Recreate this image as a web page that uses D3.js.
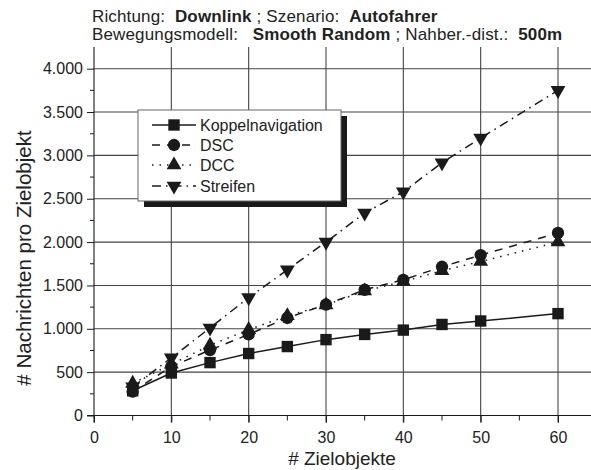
<!DOCTYPE html>
<html>
<head>
<meta charset="utf-8">
<script src="https://cdn.jsdelivr.net/npm/d3@7"></script>
<style>
  html, body { margin: 0; padding: 0; background: #fff; }
  svg { display: block; font-family: "Liberation Sans", Arial, sans-serif; }
  .head { white-space: pre; letter-spacing: 0.15px; }
</style>
</head>
<body>
<svg id="chart" width="591" height="470"></svg>
<script>
// Number of target objects (x) and messages per target object per method
const zielobjekte = [5, 10, 15, 20, 25, 30, 35, 40, 45, 50, 60];
const koppelnavigation = [285, 490, 610, 715, 795, 875, 935, 985, 1050, 1090, 1175];
const dsc = [275, 565, 755, 935, 1125, 1280, 1450, 1565, 1715, 1850, 2105];
const dcc = [370, 590, 810, 990, 1150, 1275, 1435, 1545, 1670, 1775, 2000];
const streifen = [330, 665, 1010, 1360, 1680, 2000, 2335, 2580, 2915, 3200, 3750];

const seriesNames = ["Koppelnavigation", "DSC", "DCC", "Streifen"];
const xTicks = [0, 10, 20, 30, 40, 50, 60];
const yTicks = [0, 500, 1000, 1500, 2000, 2500, 3000, 3500, 4000];

const fmt = d3.formatLocale({ decimal: ",", thousands: ".", grouping: [3], currency: ["", "€"] }).format(",d");

const series = [
  { name: seriesNames[0], values: koppelnavigation, dash: null, symbol: d3.symbolSquare, size: 130, rot: 0 },
  { name: seriesNames[1], values: dsc, dash: "8,7", symbol: d3.symbolCircle, size: 120, rot: 0 },
  { name: seriesNames[2], values: dcc, dash: "1.5,6", symbol: d3.symbolTriangle, size: 95, rot: 0 },
  { name: seriesNames[3], values: streifen, dash: "9,5,1.5,5", symbol: d3.symbolTriangle, size: 95, rot: 180 }
];

const svg = d3.select("#chart");
const W = 591;
const x = d3.scaleLinear().domain([0, 60]).range([94, 558]);
const y = d3.scaleLinear().domain([0, 4250]).range([415.5, 47]);
const plotRight = W;
const ink = "#1a1a1a";
const textInk = "#222";

// grid
const grid = svg.append("g");
grid.selectAll("line.v").data(xTicks.slice(1)).join("line")
  .attr("x1", d => x(d)).attr("x2", d => x(d))
  .attr("y1", y.range()[1]).attr("y2", y(0) + 7)
  .attr("stroke", "#444").attr("stroke-width", 1.1);
for (let v = 70; x(v) < plotRight; v += 10) {
  grid.append("line").attr("x1", x(v)).attr("x2", x(v))
    .attr("y1", y.range()[1]).attr("y2", y(0) + 7)
    .attr("stroke", "#444").attr("stroke-width", 1.1);
}
grid.selectAll("line.h").data(yTicks.slice(1)).join("line")
  .attr("x1", x(0)).attr("x2", plotRight)
  .attr("y1", d => y(d)).attr("y2", d => y(d))
  .attr("stroke", "#444").attr("stroke-width", 1.1);

// x axis
const xAxis = d3.axisBottom(x).tickValues(xTicks).tickSize(7).tickPadding(9).tickFormat(d3.format("d"));
const gx = svg.append("g").attr("transform", `translate(0,${y(0)})`).call(xAxis);
gx.select(".domain").remove();
gx.append("line").attr("x1", x(0) - 7).attr("x2", plotRight).attr("stroke", ink).attr("stroke-width", 1.1);
gx.selectAll(".tick line").attr("stroke", ink);
gx.selectAll(".tick text").attr("font-size", 16).attr("fill", textInk);
const xMinor = d3.range(5, 70, 10);
gx.selectAll("line.minor").data(xMinor).join("line")
  .attr("x1", d => x(d)).attr("x2", d => x(d)).attr("y1", 0).attr("y2", 5)
  .attr("stroke", ink).attr("stroke-width", 1);

// y axis
const yAxis = d3.axisLeft(y).tickValues(yTicks).tickSize(7).tickPadding(4).tickFormat(fmt);
const gy = svg.append("g").attr("transform", `translate(${x(0)},0)`).call(yAxis);
gy.select(".domain").remove();
gy.append("line").attr("y1", y(0) + 7).attr("y2", y.range()[1]).attr("stroke", ink).attr("stroke-width", 1.1);
gy.selectAll(".tick line").attr("stroke", ink);
gy.selectAll(".tick text").attr("font-size", 16).attr("fill", textInk);
const yMinor = d3.range(250, 4250, 500);
gy.selectAll("line.minor").data(yMinor).join("line")
  .attr("y1", d => y(d)).attr("y2", d => y(d)).attr("x1", -4).attr("x2", 0)
  .attr("stroke", ink).attr("stroke-width", 1);

// axis titles
svg.append("text").attr("x", 342).attr("y", 465).attr("text-anchor", "middle")
  .attr("font-size", 19).attr("fill", textInk).text("# Zielobjekte");
svg.append("text").attr("transform", "translate(31,258) rotate(-90)").attr("text-anchor", "middle")
  .attr("font-size", 20.5).attr("fill", textInk).text("# Nachrichten pro Zielobjekt");

// header
const head1 = svg.append("text").attr("class", "head").attr("x", 92).attr("y", 22).attr("font-size", 17).attr("fill", textInk);
head1.append("tspan").text("Richtung:  ");
head1.append("tspan").attr("font-weight", "bold").text("Downlink");
head1.append("tspan").text(" ; Szenario:  ");
head1.append("tspan").attr("font-weight", "bold").text("Autofahrer");
const head2 = svg.append("text").attr("class", "head").attr("x", 92).attr("y", 40).attr("font-size", 17).attr("fill", textInk);
head2.append("tspan").text("Bewegungsmodell:   ");
head2.append("tspan").attr("font-weight", "bold").text("Smooth Random");
head2.append("tspan").text(" ; Nahber.-dist.:  ");
head2.append("tspan").attr("font-weight", "bold").text("500m");

// series lines and markers
const line = d3.line().x(d => x(d[0])).y(d => y(d[1]));
series.forEach(s => {
  const pts = zielobjekte.map((v, i) => [v, s.values[i]]);
  svg.append("path").datum(pts).attr("d", line)
    .attr("fill", "none").attr("stroke", ink).attr("stroke-width", 1.5)
    .attr("stroke-dasharray", s.dash);
});
series.forEach(s => {
  const pts = zielobjekte.map((v, i) => [v, s.values[i]]);
  const sym = d3.symbol().type(s.symbol).size(s.size);
  svg.append("g").selectAll("path").data(pts).join("path")
    .attr("d", sym)
    .attr("transform", d => `translate(${x(d[0])},${y(d[1])}) rotate(${s.rot})`)
    .attr("fill", ink);
});

// legend
const lg = svg.append("g").attr("transform", "translate(138,110)");
lg.append("rect").attr("x", 6).attr("y", 6).attr("width", 203).attr("height", 91).attr("fill", ink);
lg.append("rect").attr("x", 0).attr("y", 0).attr("width", 203).attr("height", 91)
  .attr("fill", "#fff").attr("stroke", "#666").attr("stroke-width", 1);
const rowY = [15, 35, 55, 76];
series.forEach((s, i) => {
  const r = lg.append("g").attr("transform", `translate(0,${rowY[i]})`);
  r.append("line").attr("x1", 14).attr("x2", 58).attr("y1", 0).attr("y2", 0)
    .attr("stroke", ink).attr("stroke-width", 1.5).attr("stroke-dasharray", s.dash);
  r.append("path").attr("d", d3.symbol().type(s.symbol).size(s.size)())
    .attr("transform", `translate(36,0) rotate(${s.rot})`).attr("fill", ink);
  r.append("text").attr("x", 62).attr("y", 6).attr("font-size", 16).attr("fill", textInk).text(s.name);
});
</script>
</body>
</html>
